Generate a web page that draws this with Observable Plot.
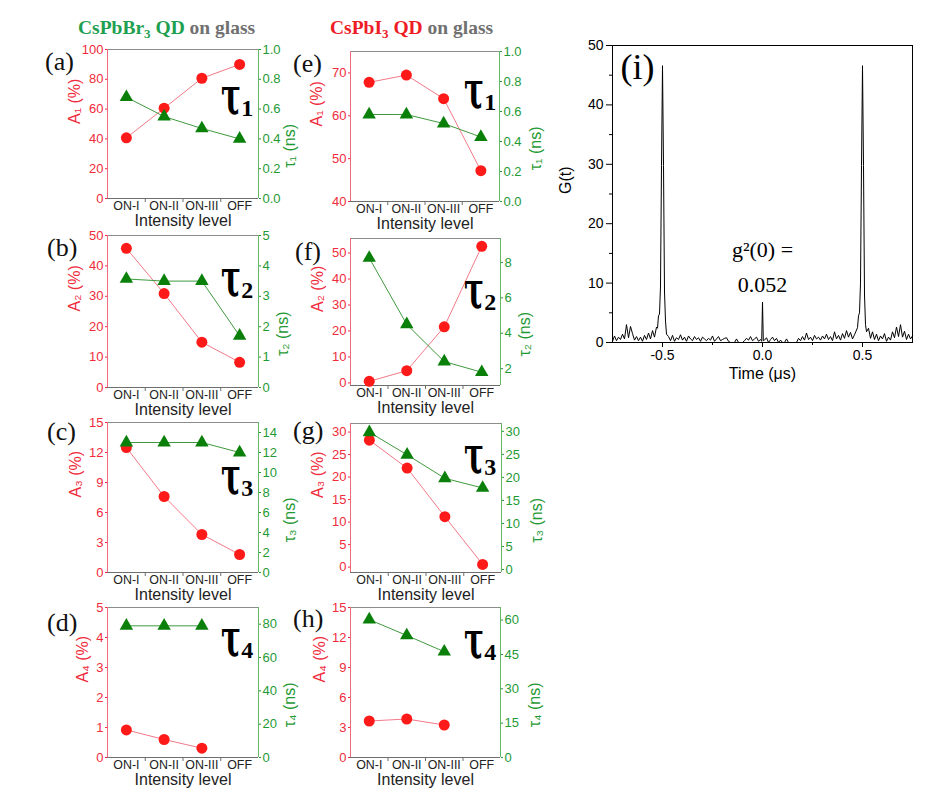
<!DOCTYPE html>
<html><head><meta charset="utf-8">
<script src="https://cdn.jsdelivr.net/npm/d3@7"></script>
<script src="https://cdn.jsdelivr.net/npm/@observablehq/plot@0.6"></script>
<style>
body{margin:0;background:#fff;}
#root{position:relative;width:935px;height:808px;background:#fff;overflow:hidden;font-family:'Liberation Sans',Arial,sans-serif;}
.abs{position:absolute;white-space:nowrap;line-height:1;}
.title{font-family:'Liberation Serif','DejaVu Serif',serif;font-weight:bold;font-size:19.5px;}
.title sub{font-size:13px;vertical-align:-4px;line-height:0;}
.plabel{font-family:'Liberation Serif','DejaVu Serif',serif;font-size:26px;color:#111;}
.tau{font-family:'DejaVu Serif',serif;font-weight:bold;font-size:36px;color:#000;}
.tau .t{display:inline-block;transform:scale(0.82,1.45);transform-origin:0 0.84em;}
.tau sub{font-family:'Liberation Serif','DejaVu Serif',serif;font-size:24px;vertical-align:-2px;line-height:0;margin-left:-4px;}
#root svg{position:absolute;}
</style></head>
<body><div id="root"></div>
<script>
// ---------- data ----------
const categories = ["ON-I", "ON-II", "ON-III", "OFF"];
const xTitle = "Intensity level";

// CsPbBr3 QD (left column)
const brA1 = [40.7, 60.6, 80.7, 90.0];
const brTau1 = [0.68, 0.55, 0.47, 0.40];
const brA2 = [45.8, 30.9, 14.9, 8.3];
const brTau2 = [3.57, 3.5, 3.5, 1.7];
const brA3 = [12.5, 7.6, 3.8, 1.8];
const brTau3 = [13, 13, 13, 12];
const brA4 = [0.92, 0.6, 0.31];
const brTau4 = [79, 79, 79];

// CsPbI3 QD (middle column)
const iA1 = [67.8, 69.5, 64.0, 47.2];
const iTau1 = [0.58, 0.58, 0.52, 0.43];
const iA2 = [0.6, 4.7, 21.6, 52.6];
const iTau2 = [8.25, 4.5, 2.4, 1.8];
const iA3 = [28.2, 22.0, 11.2, 0.6];
const iTau3 = [29.8, 24.9, 19.8, 17.7];
const iA4 = [3.65, 3.85, 3.25];
const iTau4 = [60.2, 53.3, 46.2];

// tick values
const ticksA1br = [0, 20, 40, 60, 80, 100];
const ticksTau1 = [0, 0.2, 0.4, 0.6, 0.8, 1.0];
const ticksA2br = [0, 10, 20, 30, 40, 50];
const ticksTau2br = [0, 1, 2, 3, 4, 5];
const ticksA3br = [0, 3, 6, 9, 12, 15];
const ticksTau3br = [0, 2, 4, 6, 8, 10, 12, 14];
const ticksA4br = [0, 1, 2, 3, 4, 5];
const ticksTau4br = [0, 20, 40, 60, 80];
const ticksA1i = [40, 50, 60, 70];
const ticksA2i = [0, 10, 20, 30, 40, 50];
const ticksTau2i = [2, 4, 6, 8];
const ticksA3i = [0, 5, 10, 15, 20, 25, 30];
const ticksTau3i = [0, 5, 10, 15, 20, 25, 30];
const ticksA4i = [0, 3, 6, 9, 12, 15];
const ticksTau4i = [0, 15, 30, 45, 60];

// G(t) second-order correlation (panel i)
const gNoiseLeft = {start: -0.75, values: [0.2, 1.1, 0.3, 0.9, 0.5, 1.4, 0.6, 3.0, 0.8, 2.7, 1.5, 0.4, 1.0, 0.3, 0.9, 0.2, 1.2, 0.5, 1.6, 0.6, 2.0, 0.9, 2.6]};
const gPeakLeft = [[-0.525, 2.4], [-0.52, 4.5], [-0.515, 4.8], [-0.51, 9.5], [-0.505, 29.8], [-0.5, 46.6], [-0.495, 29.8], [-0.49, 8.5], [-0.485, 3.6], [-0.48, 1.4]];
const gNoiseMidLeft = {start: -0.47, values: [1.0, 0.3, 1.2, 0.2, 0.8, 0.5, 1.3, 0.4, 0.9, 0.2, 1.1, 0.6, 0.3, 1.0, 0.5, 0.8, 0.2, 0.9, 0.6, 0.3, 0.7, 0.4, 1.1, 0.2, 0.6, 1.0, 0.3, 0.5, 0.7, 0.8, 0.2, 0.0, 0.0, 0.0, 0.6, 0.0, 0.0, 0.0, 0.3, 0.7, 0.4, 1.0, 0.3, 0.6, 0.9, 0.2, 0.5]};
const gCenter = [[-0.004, 0.2], [0, 6.8], [0.004, 0.3]];
const gNoiseMidRight = {start: 0.01, values: [0.4, 0.8, 0.0, 0.5, 0.9, 0.3, 0.7, 0.0, 0.4, 0.0, 0.0, 0.6, 0.0, 0.0, 0.0, 0.0, 0.0, 0.7, 0.3, 1.0, 0.4, 1.6, 0.5, 0.9, 0.3, 1.2, 0.6, 0.9, 0.4, 1.1, 0.6, 1.4, 0.5, 1.0, 0.3, 1.8, 0.6, 1.2, 0.4, 1.5, 0.7, 2.0, 0.9, 1.7, 0.6, 1.3, 2.1]};
const gPeakRight = [[0.475, 2.5], [0.48, 4.5], [0.485, 5.0], [0.49, 10.0], [0.495, 29.8], [0.5, 46.6], [0.505, 29.8], [0.51, 8.0], [0.515, 3.0], [0.52, 1.8]];
const gNoiseRight = {start: 0.53, values: [2.4, 0.7, 1.8, 0.5, 1.4, 0.3, 1.1, 0.6, 1.5, 0.2, 0.9, 0.4, 1.8, 0.8, 2.6, 1.0, 3.0, 0.9, 1.9, 0.5, 1.4, 0.6, 1.1]};
const gTicksY = [0, 10, 20, 30, 40, 50];
const gTicksX = [-0.5, 0, 0.5];
const gAnnotation = "g²(0) =\n0.052";

// ---------- styles ----------
const RED_TEXT = "#ef2b3c", RED_AXIS = "#f06a7c", RED_LINE = "#f27a88", RED_DOT = "#ff1a1a";
const GREEN_TEXT = "#1f9a35", GREEN_AXIS = "#62b862", GREEN_LINE = "#3f9a3f", GREEN_DOT = "#0a800a";
const FONT = "'Liberation Sans', Arial, sans-serif";
const SERIF = "'Liberation Serif', 'DejaVu Serif', serif";
const root = document.getElementById("root");

const mids = (t) => t.slice(1).map((v, i) => (v + t[i]) / 2);
const intFmt = (d) => String(d);
const oneFmt = (d) => d.toFixed(1);

const panels = [
  {L: 107, R: 258, T: 49, B: 198, a: brA1, aDomain: [0, 100], aTicks: ticksA1br, aFmt: intFmt, aLabel: "A₁ (%)", aDx: -33,
   tau: brTau1, tDomain: [0, 1], tTicks: ticksTau1, tFmt: oneFmt, tLabel: "τ₁ (ns)", tDx: 31},
  {L: 107, R: 258, T: 235, B: 387, a: brA2, aDomain: [0, 50], aTicks: ticksA2br, aFmt: intFmt, aLabel: "A₂ (%)", aDx: -33,
   tau: brTau2, tDomain: [0, 5], tTicks: ticksTau2br, tFmt: intFmt, tLabel: "τ₂ (ns)", tDx: 24},
  {L: 107, R: 258, T: 422, B: 572, a: brA3, aDomain: [0, 15], aTicks: ticksA3br, aFmt: intFmt, aLabel: "A₃ (%)", aDx: -32,
   tau: brTau3, tDomain: [0, 15], tTicks: ticksTau3br, tFmt: intFmt, tLabel: "τ₃ (ns)", tDx: 31},
  {L: 107, R: 258, T: 607, B: 757, a: brA4, aDomain: [0, 5], aTicks: ticksA4br, aFmt: intFmt, aLabel: "A₄ (%)", aDx: -25,
   tau: brTau4, tDomain: [0, 90], tTicks: ticksTau4br, tFmt: intFmt, tLabel: "τ₄ (ns)", tDx: 31},
  {L: 350, R: 499, T: 51, B: 201, a: iA1, aDomain: [40, 75], aTicks: ticksA1i, aFmt: intFmt, aLabel: "A₁ (%)", aDx: -34,
   tau: iTau1, tDomain: [0, 1], tTicks: ticksTau1, tFmt: oneFmt, tLabel: "τ₁ (ns)", tDx: 36},
  {L: 350, R: 500, T: 238, B: 385, a: iA2, aDomain: [-1, 55.6], aTicks: ticksA2i, aFmt: intFmt, aLabel: "A₂ (%)", aDx: -33,
   tau: iTau2, tDomain: [1.05, 9.35], tTicks: ticksTau2i, tFmt: intFmt, tLabel: "τ₂ (ns)", tDx: 24},
  {L: 350, R: 501, T: 423, B: 572, a: iA3, aDomain: [-1.2, 31.9], aTicks: ticksA3i, aFmt: intFmt, aLabel: "A₃ (%)", aDx: -33,
   tau: iTau3, tDomain: [-0.65, 31.7], tTicks: ticksTau3i, tFmt: intFmt, tLabel: "τ₃ (ns)", tDx: 35},
  {L: 350, R: 500, T: 607, B: 757, a: iA4, aDomain: [0, 15], aTicks: ticksA4i, aFmt: intFmt, aLabel: "A₄ (%)", aDx: -31,
   tau: iTau4, tDomain: [0, 65.5], tTicks: ticksTau4i, tFmt: intFmt, tLabel: "τ₄ (ns)", tDx: 34}
];

function place(svg, left, top) {
  svg.style.left = left + "px";
  svg.style.top = top + "px";
  root.appendChild(svg);
}

function dualPanel(p) {
  const ml = 64, mr = 64, mt = 14, mb = 40;
  const base = {
    width: p.R - p.L + ml + mr, height: p.B - p.T + mt + mb,
    marginLeft: ml, marginRight: mr, marginTop: mt, marginBottom: mb,
    style: {background: "transparent", fontFamily: FONT, fontSize: "13px", overflow: "visible"}
  };
  const aData = p.a.map((v, i) => ({i, v}));
  const tData = p.tau.map((v, i) => ({i, v}));
  const red = Plot.plot({
    ...base,
    x: {domain: [-0.5, 3.5]},
    y: {domain: p.aDomain, label: null},
    marks: [
      Plot.ruleY([p.aDomain[1]], {stroke: "#8c8c8c"}),
      Plot.ruleY([p.aDomain[0]], {stroke: "#6e6e6e"}),
      Plot.ruleX([-0.5], {stroke: RED_AXIS}),
      Plot.axisY({ticks: p.aTicks, tickSize: 2, tickPadding: 2, tickFormat: p.aFmt, color: RED_TEXT, label: null}),
      Plot.axisX({ticks: [0, 1, 2, 3], tickSize: 0, tickPadding: 3, tickFormat: (i) => categories[i], color: "#222", fontSize: 12.4, label: null}),
      Plot.axisX({ticks: [0.5, 1.5, 2.5], tickSize: 4, tickFormat: () => "", color: "#6e6e6e", label: null}),
      Plot.text([p.aLabel], {text: (d) => d, frameAnchor: "left", dx: p.aDx, rotate: -90, fontSize: 16, fill: RED_TEXT}),
      Plot.text([xTitle], {text: (d) => d, frameAnchor: "bottom", dy: 27, fontSize: 16, fill: "#222"}),
      Plot.line(aData, {x: "i", y: "v", stroke: RED_LINE, strokeWidth: 1}),
      Plot.dot(aData, {x: "i", y: "v", r: 5.5, fill: RED_DOT, stroke: "none"})
    ]
  });
  place(red, p.L - ml, p.T - mt);
  const green = Plot.plot({
    ...base,
    x: {domain: [-0.5, 3.5], axis: null},
    y: {domain: p.tDomain, label: null},
    marks: [
      Plot.ruleX([3.5], {stroke: GREEN_AXIS}),
      Plot.axisY({anchor: "right", ticks: p.tTicks, tickSize: 2, tickPadding: 2, tickFormat: p.tFmt, color: GREEN_TEXT, label: null}),
      Plot.text([p.tLabel], {text: (d) => d, frameAnchor: "right", dx: p.tDx, rotate: -90, fontSize: 16, fill: GREEN_TEXT}),
      Plot.line(tData, {x: "i", y: "v", stroke: GREEN_LINE, strokeWidth: 1}),
      Plot.dot(tData, {x: "i", y: "v", symbol: "triangle", r: 5, fill: GREEN_DOT, stroke: "none"})
    ]
  });
  place(green, p.L - ml, p.T - mt);
}
panels.forEach(dualPanel);

// ---------- panel (i) ----------
function expand(seg) { return seg.values.map((g, k) => [Math.round((seg.start + k * 0.01) * 1000) / 1000, g]); }
const gData = [
  ...expand(gNoiseLeft), ...gPeakLeft, ...expand(gNoiseMidLeft), ...gCenter,
  ...expand(gNoiseMidRight), ...gPeakRight, ...expand(gNoiseRight)
].map(([t, g]) => ({t, g})).sort((a, b) => a.t - b.t);

const gPlot = Plot.plot({
  width: 370, height: 357, marginLeft: 60, marginRight: 10, marginTop: 10, marginBottom: 50,
  style: {background: "transparent", fontFamily: FONT, fontSize: "14px", overflow: "visible"},
  x: {domain: [-0.75, 0.75]},
  y: {domain: [0, 50], label: null},
  marks: [
    Plot.frame({stroke: "#000"}),
    Plot.axisY({ticks: gTicksY, tickSize: 6, tickPadding: 3, color: "#000", label: null}),
    Plot.axisY({ticks: mids(gTicksY), tickSize: 3, tickFormat: () => "", color: "#000", label: null}),
    Plot.axisX({ticks: gTicksX, tickSize: 5, tickPadding: 3, tickFormat: (d) => d.toFixed(1), color: "#000", label: null}),
    Plot.axisX({ticks: mids(gTicksX), tickSize: 3, tickFormat: () => "", color: "#000", label: null}),
    Plot.text(["G(t)"], {text: (d) => d, frameAnchor: "left", dx: -47, rotate: -90, fontSize: 16, fill: "#000"}),
    Plot.text(["Time (μs)"], {text: (d) => d, frameAnchor: "bottom", dy: 36, fontSize: 16, fill: "#000"}),
    Plot.line(gData, {x: "t", y: "g", stroke: "#000", strokeWidth: 1}),
    Plot.text([gAnnotation], {x: () => 0, y: () => 13.3, text: (d) => d, fontFamily: SERIF, fontSize: 22, lineHeight: 1.6, fill: "#000"}),
    Plot.text(["(i)"], {text: (d) => d, frameAnchor: "top-left", dx: 8, dy: 8, textAnchor: "start", lineAnchor: "top", fontFamily: SERIF, fontSize: 36, fill: "#000"})
  ]
});
place(gPlot, 612 - 60, 45 - 10);

// ---------- titles & labels ----------
function addHTML(cls, left, top, html) {
  const d = document.createElement("div");
  d.className = "abs " + cls;
  d.style.left = left + "px";
  d.style.top = top + "px";
  d.innerHTML = html;
  root.appendChild(d);
}
addHTML("title", 78, 18, '<span style="color:#1fa050">CsPbBr<sub>3</sub> QD</span> <span style="color:#707070">on glass</span>');
addHTML("title", 330, 18, '<span style="color:#ee1c25">CsPbI<sub>3</sub> QD</span> <span style="color:#707070">on glass</span>');

const letters = [["(a)", 45, 49], ["(b)", 47, 235], ["(c)", 47, 419], ["(d)", 47, 610],
                 ["(e)", 293, 51], ["(f)", 295, 239], ["(g)", 293, 418], ["(h)", 293, 606]];
letters.forEach(([s, x, y]) => addHTML("plabel", x, y, s));

const taus = [["1", 221, 113], ["2", 221, 295], ["3", 221, 493], ["4", 221, 655],
              ["1", 464, 107], ["2", 464, 307], ["3", 464, 472], ["4", 464, 657]];
taus.forEach(([n, x, base]) => addHTML("tau", x, base - 30.5, '<span class="t">τ</span><sub>' + n + '</sub>'));
</script>
</body></html>
